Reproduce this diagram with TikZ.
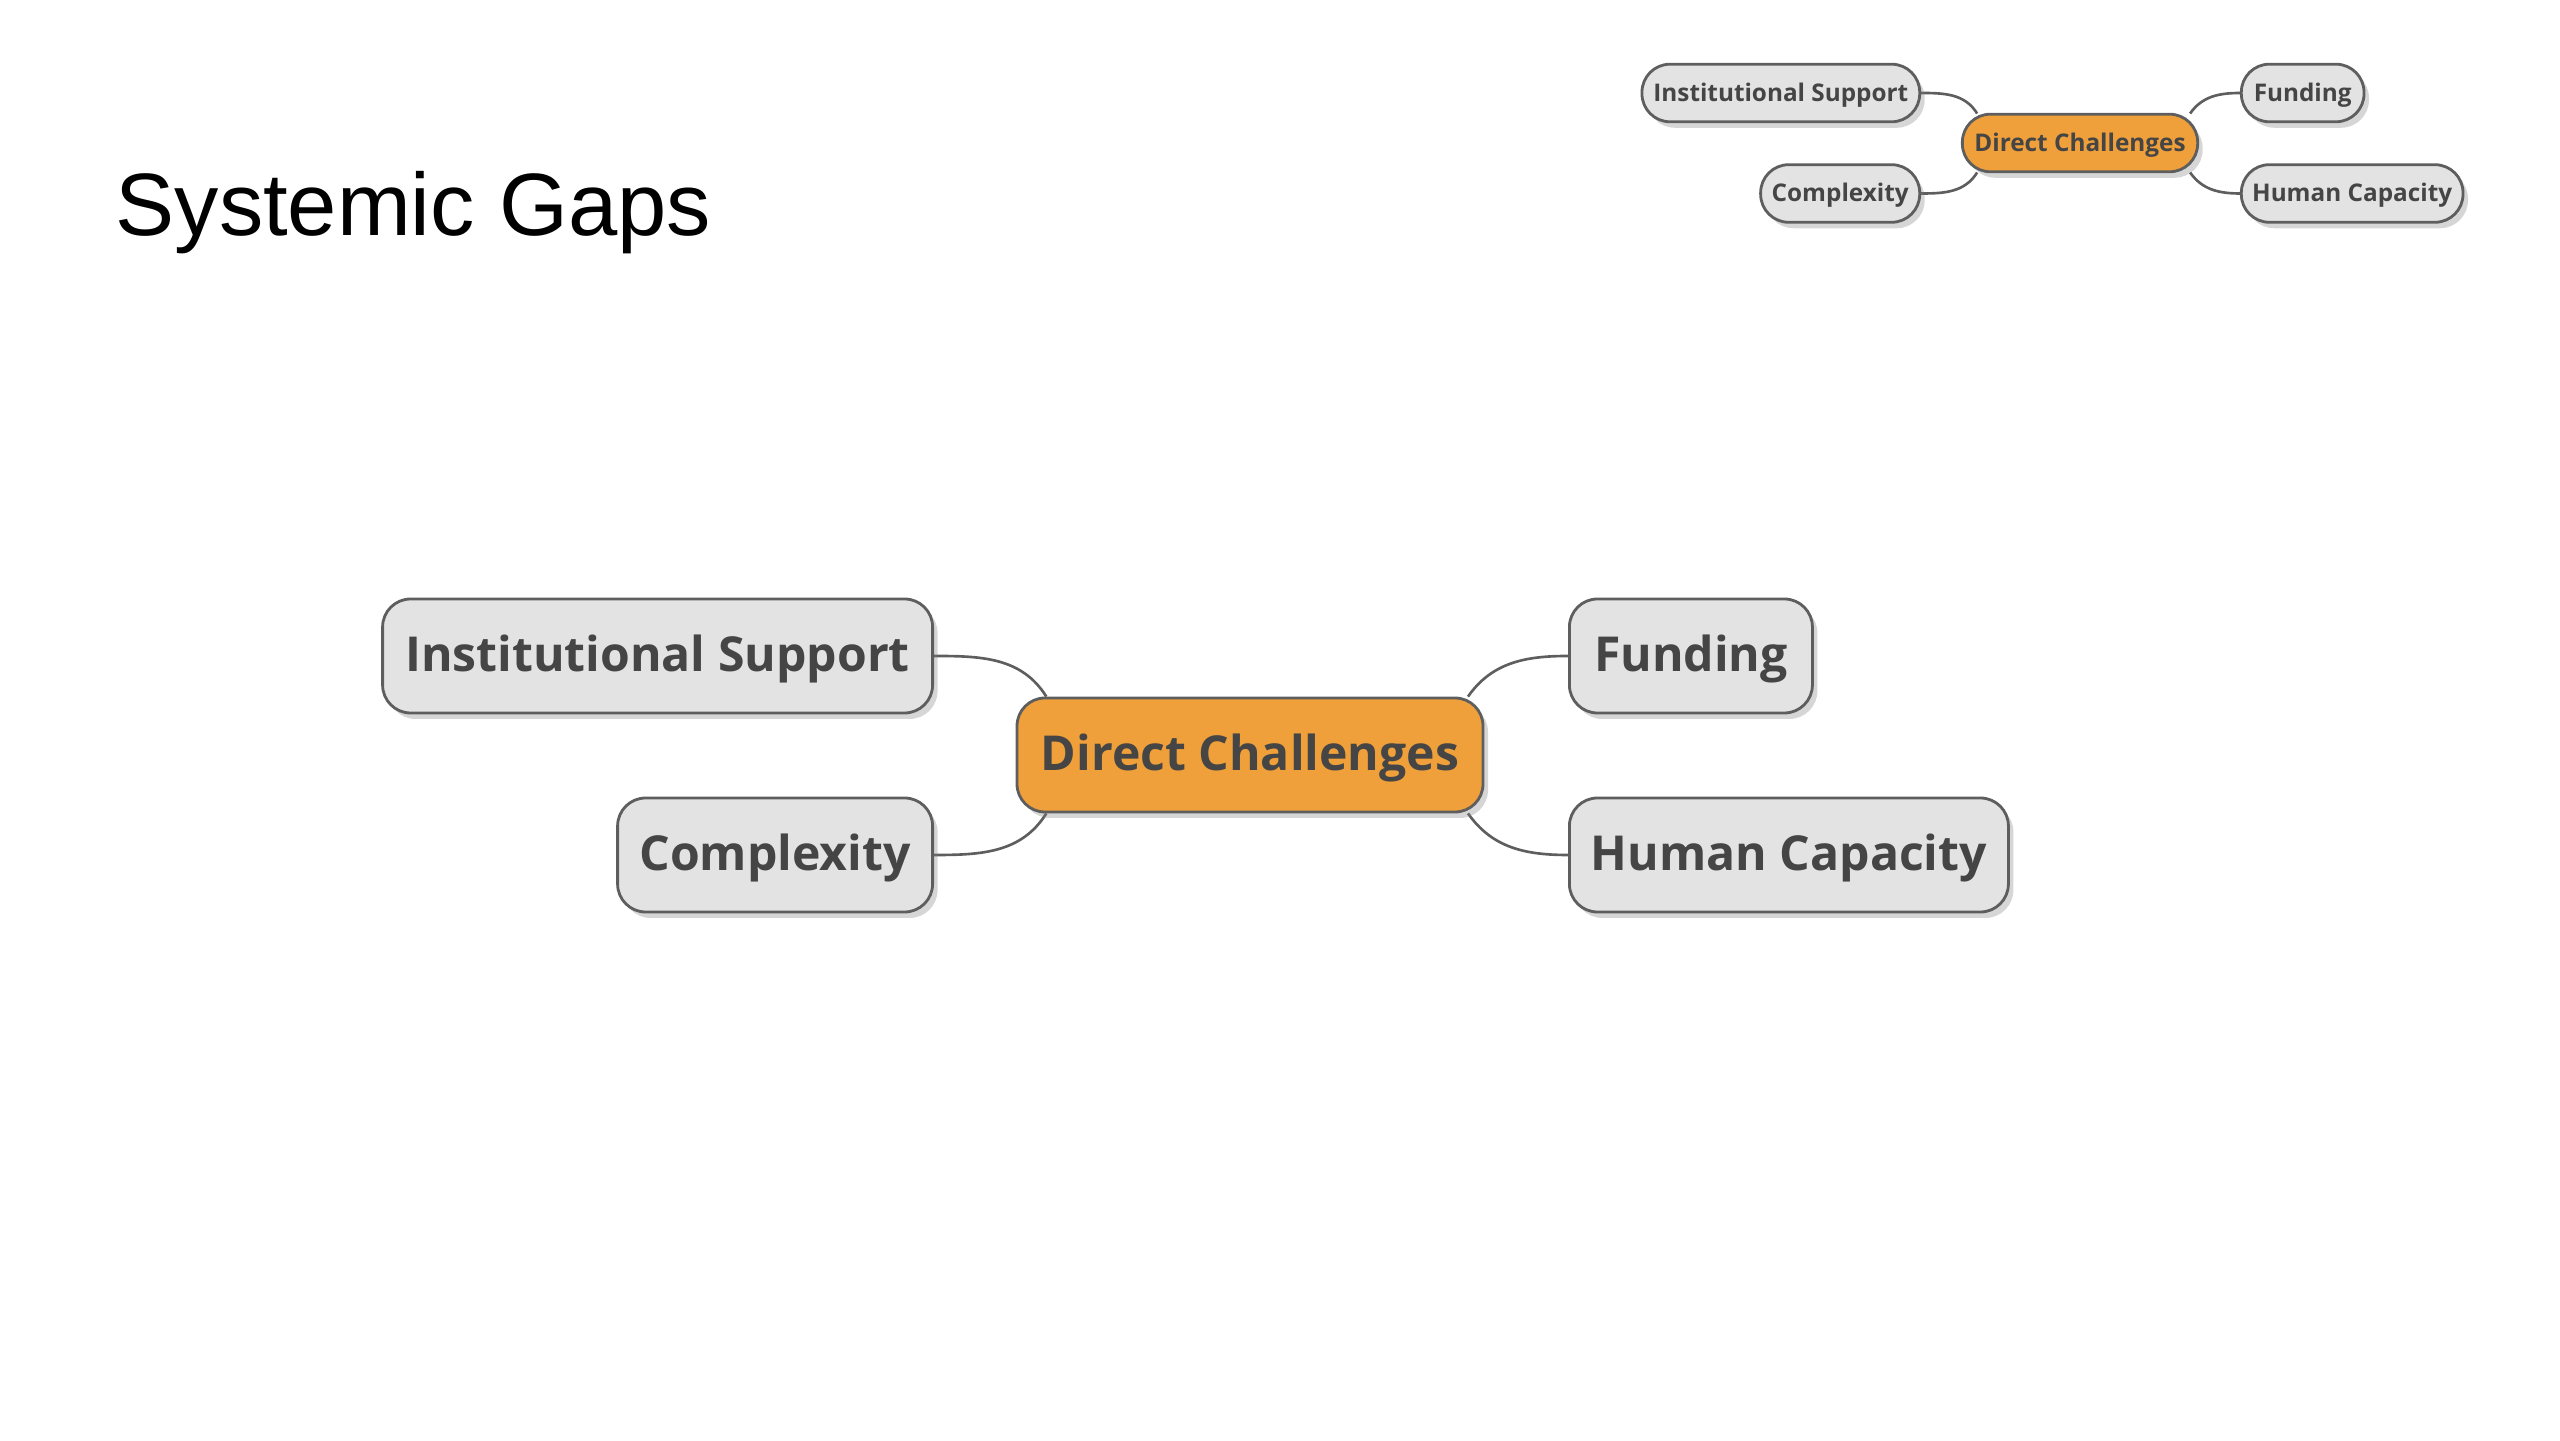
\documentclass[tikz,border=0pt]{standalone}
\usepackage{fontspec}
\setmainfont{Liberation Sans}
\newfontfamily\mapfont{Open Sans}
\usetikzlibrary{shadows,backgrounds}

\definecolor{hubfill}{HTML}{F0A03A}
\definecolor{leaffill}{HTML}{E3E3E3}
\definecolor{mapline}{HTML}{5E5E5E}
\definecolor{maptext}{HTML}{454545}

\tikzset{
  mapbox/.style={rectangle, rounded corners=0.28cm, draw=mapline, line width=0.8pt,
    minimum height=1.14cm, inner xsep=0.2cm, text height=0.38cm, text depth=0.06cm,
    font=\mapfont\bfseries\fontsize{13.7}{16}\selectfont, text=maptext,
    drop shadow={shadow xshift=0.05cm, shadow yshift=-0.06cm, opacity=0.32}},
  hub/.style={mapbox, fill=hubfill},
  leaf/.style={mapbox, fill=leaffill},
  branch/.style={draw=mapline, line width=0.75pt}
}

\begin{document}
\begin{tikzpicture}
  \useasboundingbox (0,0) rectangle (25.6,14.4);

  \node[anchor=base west, inner sep=0pt, font=\fontsize{25.2}{30}\selectfont] (title) at (1.15,12.04) {Systemic Gaps};

  % the map, once large and once as a thumbnail
  \foreach \p/\s/\cx/\cy in {big/1/12.50/6.85, small/0.505/20.80/12.97} {
    \begin{scope}[shift={(\cx,\cy)}, scale=\s, every node/.append style={scale=\s}]
      \node[hub, minimum width=4.66cm] (\p-dc) at (0,0) {Direct Challenges};
      \node[leaf, anchor=east, minimum width=5.50cm] (\p-is) at (-3.16,0.99) {Institutional Support};
      \node[leaf, anchor=east, minimum width=3.15cm] (\p-co) at (-3.16,-1.00) {Complexity};
      \node[leaf, anchor=west, minimum width=2.43cm] (\p-fu) at (3.18,0.99) {Funding};
      \node[leaf, anchor=west, minimum width=4.39cm] (\p-hc) at (3.18,-1.00) {Human Capacity};

      \begin{scope}[on background layer]
        \draw[branch] (\p-dc.164) to[out=122, in=0] (\p-is.east);
        \draw[branch] (\p-dc.-164) to[out=-122, in=0] (\p-co.east);
        \draw[branch] (\p-dc.15) to[out=55, in=180] (\p-fu.west);
        \draw[branch] (\p-dc.-15) to[out=-55, in=180] (\p-hc.west);
      \end{scope}
    \end{scope}
  }
\end{tikzpicture}
\end{document}
